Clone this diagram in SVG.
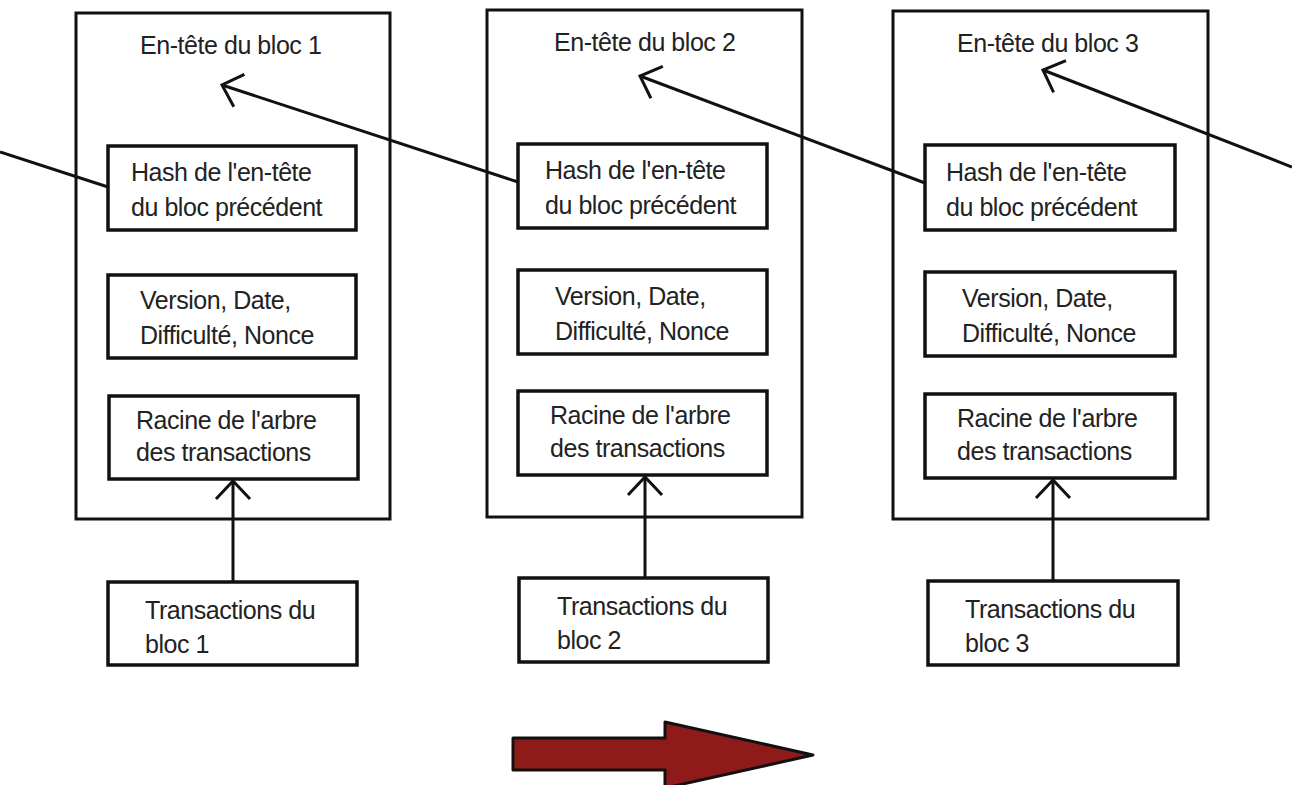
<svg xmlns="http://www.w3.org/2000/svg" width="1292" height="785" viewBox="0 0 1292 785">
<style>
.box{fill:none;stroke:#111;stroke-width:3}
.ibox{fill:#fff;stroke:#111;stroke-width:3.5}
text{font-family:"Liberation Sans",Arial,sans-serif;font-size:25px;letter-spacing:-0.45px;fill:#222}
.con{fill:none;stroke:#111;stroke-width:3;marker-end:url(#ah)}
.plain{fill:none;stroke:#111;stroke-width:3}
</style>
<defs>
<marker id="ah" markerUnits="userSpaceOnUse" markerWidth="40" markerHeight="40" viewBox="-22 -20 24 40" refX="0" refY="0" orient="auto">
<path d="M-18,-17 L0,0 L-18,17" fill="none" stroke="#111" stroke-width="3" stroke-linejoin="miter"/>
</marker>
</defs>
<rect width="1292" height="785" fill="#fff"/>

<g id="block1">
<rect class="box" x="76" y="13" width="314" height="506"/>
<text x="140" y="54">En-tête du bloc 1</text>
</g>
<g id="hash1">
<rect class="ibox" x="108" y="146" width="248" height="84"/>
<text x="131" y="181">Hash de l'en-tête</text>
<text x="131" y="216">du bloc précédent</text>
</g>
<g id="version1">
<rect class="ibox" x="108" y="275" width="248" height="83"/>
<text x="140" y="309">Version, Date,</text>
<text x="140" y="344">Difficulté, Nonce</text>
</g>
<g id="racine1">
<rect class="ibox" x="109" y="396" width="249" height="83"/>
<text x="136" y="429">Racine de l'arbre</text>
<text x="136" y="461">des transactions</text>
</g>
<g id="tx1">
<rect class="ibox" x="108" y="582" width="249" height="83"/>
<text x="145" y="619">Transactions du</text>
<text x="145" y="653">bloc 1</text>
</g>

<g id="block2">
<rect class="box" x="487" y="10" width="315" height="507"/>
<text x="554" y="51">En-tête du bloc 2</text>
</g>
<g id="hash2">
<rect class="ibox" x="518" y="144" width="249" height="84"/>
<text x="545" y="179">Hash de l'en-tête</text>
<text x="545" y="214">du bloc précédent</text>
</g>
<g id="version2">
<rect class="ibox" x="518" y="270" width="249" height="84"/>
<text x="555" y="305">Version, Date,</text>
<text x="555" y="340">Difficulté, Nonce</text>
</g>
<g id="racine2">
<rect class="ibox" x="518" y="391" width="249" height="84"/>
<text x="550" y="424">Racine de l'arbre</text>
<text x="550" y="457">des transactions</text>
</g>
<g id="tx2">
<rect class="ibox" x="519" y="578" width="249" height="84"/>
<text x="557" y="615">Transactions du</text>
<text x="557" y="649">bloc 2</text>
</g>

<g id="block3">
<rect class="box" x="893" y="11" width="315" height="508"/>
<text x="957" y="52">En-tête du bloc 3</text>
</g>
<g id="hash3">
<rect class="ibox" x="925" y="145" width="250" height="85"/>
<text x="946" y="181">Hash de l'en-tête</text>
<text x="946" y="216">du bloc précédent</text>
</g>
<g id="version3">
<rect class="ibox" x="925" y="272" width="250" height="84"/>
<text x="962" y="307">Version, Date,</text>
<text x="962" y="342">Difficulté, Nonce</text>
</g>
<g id="racine3">
<rect class="ibox" x="925" y="394" width="250" height="84"/>
<text x="957" y="427">Racine de l'arbre</text>
<text x="957" y="460">des transactions</text>
</g>
<g id="tx3">
<rect class="ibox" x="928" y="581" width="250" height="84"/>
<text x="965" y="618">Transactions du</text>
<text x="965" y="652">bloc 3</text>
</g>

<g id="connectors">
<line class="plain" x1="0" y1="152" x2="108" y2="187"/>
<line class="con" x1="518" y1="182" x2="222" y2="85"/>
<line class="con" x1="925" y1="183" x2="640" y2="76"/>
<line class="con" x1="1292" y1="167" x2="1043" y2="70"/>
<line class="con" x1="233" y1="582" x2="233" y2="481"/>
<line class="con" x1="645" y1="578" x2="645" y2="477"/>
<line class="con" x1="1053" y1="581" x2="1053" y2="480"/>
</g>

<g id="direction-arrow">
<polygon points="513,738 665,738 665,722 813,755 665,788 665,770 513,770" fill="#8e1a1a" stroke="#111" stroke-width="3" stroke-linejoin="round"/>
</g>
</svg>
